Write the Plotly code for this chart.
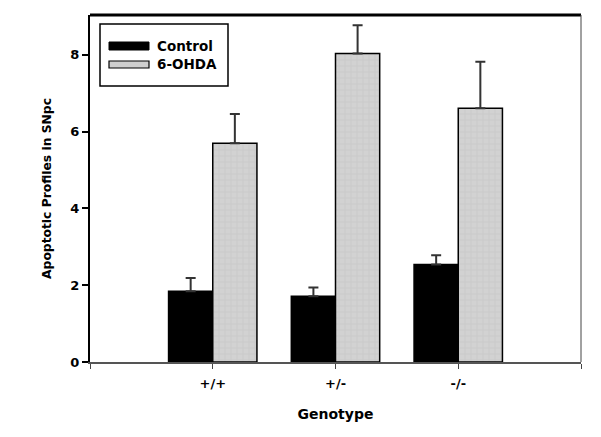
import plotly.graph_objects as go

genotypes = ["+/+", "+/-", "-/-"]
control = [1.84, 1.71, 2.54]
control_err = [0.35, 0.23, 0.24]
ohda = [5.70, 8.04, 6.61]
ohda_err = [0.76, 0.73, 1.21]
y_ticks = [0, 2, 4, 6, 8]

x_pos = list(range(len(genotypes)))

fig = go.Figure()
fig.add_trace(go.Bar(
    x=x_pos, y=control, name="Control",
    marker=dict(color="black", line=dict(color="black", width=1.5)),
    error_y=dict(type="data", array=control_err, arrayminus=[0]*3, symmetric=False,
                 color="#333333", thickness=2, width=5),
    showlegend=False,
))
fig.add_trace(go.Bar(
    x=x_pos, y=ohda, name="6-OHDA",
    marker=dict(color="#cfcfcf", line=dict(color="black", width=1.5),
                pattern=dict(shape="+", fgcolor="#b4b4b4", bgcolor="#d2d2d2", size=6, solidity=0.15)),
    error_y=dict(type="data", array=ohda_err, arrayminus=[0]*3, symmetric=False,
                 color="#333333", thickness=2, width=5),
    showlegend=False,
))

font_b = dict(family="DejaVu Sans", size=13, color="black")

# plot-area geometry (pixels) for the manual legend
W, H = 601, 437
ml, mr, mt, mb = 90, 20, 15, 75
pw, ph = W - ml - mr, H - mt - mb
def px(x):
    return (x - ml) / pw
def py(y):
    return 1 - (y - mt) / ph

shapes = [
    # legend box
    dict(type="rect", xref="paper", yref="paper", x0=px(100), x1=px(228), y0=py(86), y1=py(24),
         line=dict(color="black", width=1.5), fillcolor="white"),
    dict(type="rect", xref="paper", yref="paper", x0=px(109), x1=px(149), y0=py(50), y1=py(42),
         line=dict(color="black", width=1), fillcolor="black"),
    dict(type="rect", xref="paper", yref="paper", x0=px(109), x1=px(149), y0=py(68), y1=py(61),
         line=dict(color="black", width=1.2), fillcolor="#cfcfcf"),
    # frame: top thick, right thin
    dict(type="line", xref="paper", yref="paper", x0=0, x1=1, y0=1, y1=1,
         line=dict(color="black", width=3)),
    dict(type="line", xref="paper", yref="paper", x0=1, x1=1, y0=0, y1=1,
         line=dict(color="#444444", width=1)),
]
legend_font = dict(family="DejaVu Sans", size=13.5, color="black")
annotations = [
    dict(text="<b>Control</b>", xref="paper", yref="paper", x=px(155), y=py(46),
         xanchor="left", yanchor="middle", showarrow=False, font=legend_font),
    dict(text="<b>6-OHDA</b>", xref="paper", yref="paper", x=px(155), y=py(64.5),
         xanchor="left", yanchor="middle", showarrow=False, font=legend_font),
]

fig.update_layout(
    width=W, height=H,
    margin=dict(l=ml, r=mr, t=mt, b=mb, autoexpand=False),
    paper_bgcolor="white", plot_bgcolor="white",
    barmode="group", bargap=0.28, bargroupgap=0,
    shapes=shapes, annotations=annotations,
    font=font_b,
)
fig.update_xaxes(
    range=[-1, 3], tickvals=[-1, 0, 1, 2, 3], ticktext=["", "<b>+/+</b>", "<b>+/-</b>", "<b>-/-</b>", ""],
    ticks="outside", ticklen=5, tickcolor="#444444", tickwidth=1, ticklabelstandoff=3,
    showline=True, linecolor="#555555", linewidth=2, showgrid=False, zeroline=False,
    title=dict(text="<b>Genotype</b>", font=dict(family="DejaVu Sans", size=14, color="black"), standoff=20),
    tickfont=font_b, automargin=False,
)
fig.update_yaxes(
    range=[0, 9.04], tickvals=y_ticks, ticktext=[f"<b>{v}</b>" for v in y_ticks],
    ticks="outside", ticklen=6, tickcolor="black", tickwidth=1.5,
    showline=True, linecolor="black", linewidth=2, showgrid=False, zeroline=False,
    title=dict(text="<b>Apoptotic Profiles in SNpc</b>", font=dict(family="DejaVu Sans", size=12.3, color="black"), standoff=16),
    tickfont=font_b, automargin=False,
)

fig.write_html("out.html", config={"displayModeBar": False},
               post_script="document.body.style.margin='0';")
